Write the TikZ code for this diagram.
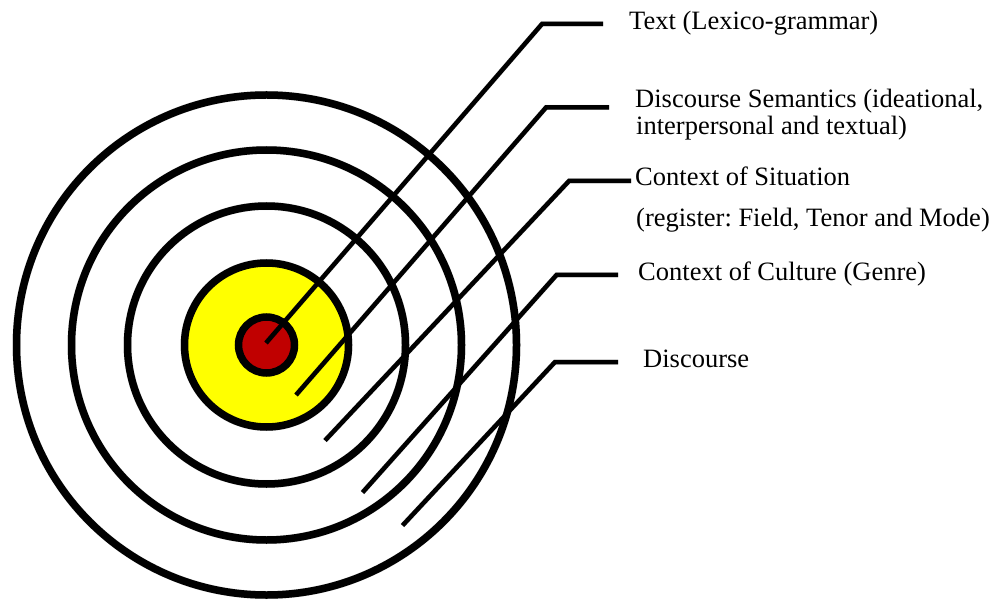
\documentclass[tikz,border=0pt]{standalone}
\usepackage{fontspec}
\setmainfont{Liberation Serif}
\definecolor{bullred}{RGB}{192,0,0}
\definecolor{bullyellow}{RGB}{255,255,0}
\tikzset{
  ring/.style={draw=black, line width=7.5pt},
  ringshadow/.style={draw=black, line width=8pt, opacity=0.18},
  leader/.style={draw=black, line width=4.5pt, line join=miter},
  leadershadow/.style={draw=black, line width=5pt, opacity=0.18, line join=miter},
  lbl/.style={anchor=base west, inner sep=0pt, font=\fontsize{26.5}{28}\selectfont},
}
\frenchspacing
\begin{document}
\begin{tikzpicture}[x=1pt,y=-1pt]
\useasboundingbox (0,0) rectangle (1000,601);
\coordinate (ctr) at (266.5,345);
% shadows of rings
\begin{scope}[shift={(2,3)}]
  \draw[ringshadow] (ctr) circle[radius=250];
  \draw[ringshadow] (ctr) circle[radius=195];
  \draw[ringshadow] (ctr) circle[radius=139];
  \draw[ringshadow] (ctr) circle[radius=82];
  \draw[ringshadow] (ctr) circle[radius=28];
\end{scope}
% rings
\draw[ring] (ctr) circle[radius=250];
\draw[ring] (ctr) circle[radius=195];
\draw[ring] (ctr) circle[radius=139];
\filldraw[ring, fill=bullyellow] (ctr) circle[radius=82];
\filldraw[ring, fill=bullred] (ctr) circle[radius=28];
% labels
\node[lbl] (t1) at (629,29.5) {Text (Lexico-grammar)};
\node[lbl] (t2) at (635,107.5) {Discourse Semantics (ideational,};
\node[lbl] (t2b) at (636,135) {interpersonal and textual)};
\node[lbl] (t3) at (635,186) {Context of Situation};
\node[lbl] (t3b) at (636,226.5) {(register: Field, Tenor and Mode)};
\node[lbl] (t4) at (638,280) {Context of Culture (Genre)};
\node[lbl] (t5) at (643,367) {Discourse};
% leader coordinates
\coordinate (s1) at (266,343);   \coordinate (c1) at (542,24);    \coordinate (e1) at (603,24);
\coordinate (s2) at (296,395);   \coordinate (c2) at (546,107.5); \coordinate (e2) at (609,107.5);
\coordinate (s3) at (325,440.5); \coordinate (c3) at (569,181);   \coordinate (e3) at (631,181);
\coordinate (s4) at (362.5,492.5); \coordinate (c4) at (556.5,275); \coordinate (e4) at (618,275);
\coordinate (s5) at (402.5,525.5); \coordinate (c5) at (555,362); \coordinate (e5) at (618,362);
% leader shadows
\begin{scope}[shift={(1.5,2.5)}]
  \draw[leadershadow] (s1) -- (c1) -- (e1);
  \draw[leadershadow] (s2) -- (c2) -- (e2);
  \draw[leadershadow] (s3) -- (c3) -- (e3);
  \draw[leadershadow] (s4) -- (c4) -- (e4);
  \draw[leadershadow] (s5) -- (c5) -- (e5);
\end{scope}
% leaders
\draw[leader] (s1) -- (c1) -- (e1);
\draw[leader] (s2) -- (c2) -- (e2);
\draw[leader] (s3) -- (c3) -- (e3);
\draw[leader] (s4) -- (c4) -- (e4);
\draw[leader] (s5) -- (c5) -- (e5);
\end{tikzpicture}
\end{document}
